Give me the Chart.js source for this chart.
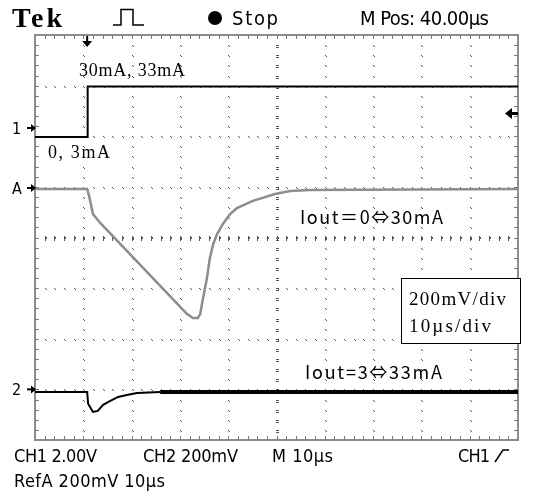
<!DOCTYPE html>
<html>
<head>
<meta charset="utf-8">
<script src="https://cdn.jsdelivr.net/npm/chart.js@4.4.1/dist/chart.umd.min.js"></script>
<style>
  html, body { margin: 0; padding: 0; background: #fff; }
  canvas { display: block; }
</style>
</head>
<body>
<canvas id="scope" width="550" height="495"></canvas>
<script>
// ---- acquisition data ----
// time axis in µs (10 µs/div, 10 divisions)
const ch1Time  = [0, 10.9, 10.9, 100];
const ch1Volts = [0, 0, 2.0, 2.0];                 // load-step drive, 2 V/div

// RefA: output response for Iout 0 <-> 30 mA, mV
const refATime = [0, 10.8, 11.2, 12.0, 13.5, 31.5, 32.7, 33.7, 34.2, 34.8, 35.6, 36.2,
                  36.9, 37.7, 38.9, 40.4, 41.8, 45.1, 49.7, 52.8, 56.9, 100];
const refAmV   = [0, 0, -28, -99, -134, -494, -510, -510, -494, -431, -352, -273,
                  -217, -178, -138, -99, -75, -47, -20, -8, -4, 0];

// straight slope drawn over the falling part of RefA
const slopeTime = [13.5, 31.5];
const slopemV   = [-134, -494];

// CH2: output response for Iout 3 <-> 33 mA, mV
const ch2Time = [0, 10.8, 11.0, 12.0, 13.0, 14.1, 15.5, 17.2, 19.0, 21.1, 25.9, 100];
const ch2mV   = [0, 0, -47, -79, -75, -51, -36, -20, -12, -4, 0, 0];

// ---- vertical settings (per division and screen position in divisions) ----
const CH1_V_PER_DIV = 2.0,  CH1_POS = 1.985;
const REFA_MV_PER_DIV = 200, REFA_POS = 0.958;
const CH2_MV_PER_DIV = 200,  CH2_POS = -3.05;
const TRIG_TIME = 10.8;

const toDiv = (t, v, perDiv, pos) => t.map((x, i) => ({ x, y: v[i] / perDiv + pos }));

const ch2Pts = toDiv(ch2Time, ch2mV, CH2_MV_PER_DIV, CH2_POS);
const splitAt = ch2Time.indexOf(25.9);

// ---- graticule ----
const graticule = {
  id: 'graticule',
  beforeDatasetsDraw(chart) {
    const { ctx, chartArea: a, scales: { x, y } } = chart;
    ctx.save();
    ctx.fillStyle = '#555';
    // vertical grid lines, dotted every 1/5 division
    for (let i = 1; i < 10; i++) {
      const px = Math.round(x.getPixelForValue(i * 10));
      for (let j = 1; j < 40; j++) {
        const py = Math.round(y.getPixelForValue(-4 + j * 0.2));
        if (i === 5) { ctx.fillRect(px - 1, py, 3, 1); ctx.fillRect(px - 1, py + 2, 3, 1); }
        else { ctx.fillRect(px, py, 1, 1); ctx.fillRect(px + 1, py + 1, 1, 1); }
      }
    }
    // horizontal grid lines
    for (let j = 1; j < 8; j++) {
      const py = Math.round(y.getPixelForValue(-4 + j));
      for (let i = 1; i < 50; i++) {
        const px = Math.round(x.getPixelForValue(i * 2));
        if (j === 4) { ctx.fillRect(px, py - 2, 1, 5); ctx.fillRect(px + 1, py - 1, 1, 2); }
        else { ctx.fillRect(px, py, 1, 1); ctx.fillRect(px + 1, py + 1, 1, 1); }
      }
    }
    // frame with inward ticks
    ctx.strokeStyle = '#8c8c8c';
    ctx.lineWidth = 2;
    ctx.strokeRect(a.left, a.top, a.width, a.height);
    ctx.fillStyle = '#777';
    for (let i = 1; i < 50; i++) {
      const px = Math.round(x.getPixelForValue(i * 2));
      ctx.fillRect(px, a.top, 1, 4);
      ctx.fillRect(px, a.bottom - 4, 1, 4);
    }
    for (let j = 1; j < 40; j++) {
      const py = Math.round(y.getPixelForValue(-4 + j * 0.2));
      ctx.fillRect(a.left, py, 4, 1);
      ctx.fillRect(a.right - 4, py, 4, 1);
    }
    ctx.restore();
  }
};

// draws a string stretched (or squeezed) to a given width
function fitText(ctx, str, left, baseline, width, font) {
  ctx.font = font;
  ctx.letterSpacing = '0px';
  const w = ctx.measureText(str).width;
  const n = [...str].length;
  const sp = n > 1 ? (width - w) / (n - 1) : 0;
  ctx.letterSpacing = sp.toFixed(2) + 'px';
  ctx.fillText(str, left, baseline);
  ctx.letterSpacing = '0px';
}

function rightArrow(ctx, x, y) {
  ctx.fillRect(x - 7, y - 1, 7, 2);
  ctx.beginPath();
  ctx.moveTo(x + 2, y); ctx.lineTo(x - 3, y - 4); ctx.lineTo(x - 3, y + 4); ctx.closePath();
  ctx.fill();
}

// ---- screen readouts and annotations ----
const screenText = {
  id: 'screenText',
  afterDraw(chart) {
    const { ctx, chartArea: a, scales: { x, y } } = chart;
    ctx.save();
    ctx.fillStyle = '#000';
    ctx.strokeStyle = '#000';
    ctx.textBaseline = 'alphabetic';
    const scopeFont = '18px "DejaVu Sans Condensed"';
    const headFont = '20px "DejaVu Sans Condensed"';

    // header
    fitText(ctx, 'Tek', 12, 27, 50, 'bold 28px "Liberation Serif"');
    ctx.lineWidth = 1.5;
    ctx.beginPath();
    ctx.moveTo(113, 25); ctx.lineTo(121, 25); ctx.lineTo(121, 9.5);
    ctx.lineTo(133, 9.5); ctx.lineTo(133, 25); ctx.lineTo(144, 25);
    ctx.stroke();
    ctx.beginPath(); ctx.arc(215, 18, 7, 0, Math.PI * 2); ctx.fill();
    fitText(ctx, 'Stop', 232, 25, 46, headFont);
    fitText(ctx, 'M Pos: 40.00µs', 360, 25, 129, headFont);

    // footer readouts
    fitText(ctx, 'CH1 2.00V', 14, 462, 83, scopeFont);
    fitText(ctx, 'CH2 200mV', 143, 462, 95, scopeFont);
    fitText(ctx, 'M 10µs', 272, 462, 61, scopeFont);
    fitText(ctx, 'CH1', 458, 462, 32, scopeFont);
    ctx.lineWidth = 1.5;
    ctx.beginPath();
    ctx.moveTo(495, 462); ctx.lineTo(503, 450); ctx.lineTo(509, 450);
    ctx.stroke();
    fitText(ctx, 'RefA 200mV 10µs', 14, 487, 151, scopeFont);

    // channel ground markers
    ctx.font = '16px "DejaVu Sans Condensed"';
    const marks = [['1', 2.163], ['A', REFA_POS + 0.02], ['2', CH2_POS + 0.05]];
    for (const [lbl, pos] of marks) {
      const py = y.getPixelForValue(pos);
      ctx.fillText(lbl, 12, py + 6);
      rightArrow(ctx, a.left - 1, py);
    }

    // trigger position (top) and trigger level (right)
    const tx = x.getPixelForValue(TRIG_TIME);
    ctx.fillRect(tx - 1, a.top + 1, 2, 7);
    ctx.beginPath();
    ctx.moveTo(tx - 5, a.top + 6); ctx.lineTo(tx + 5, a.top + 6); ctx.lineTo(tx, a.top + 12);
    ctx.closePath(); ctx.fill();
    const ty = 113;
    ctx.fillRect(a.right - 8, ty - 1, 8, 3);
    ctx.beginPath();
    ctx.moveTo(a.right - 13, ty + 0.5); ctx.lineTo(a.right - 6, ty - 5); ctx.lineTo(a.right - 6, ty + 6);
    ctx.closePath(); ctx.fill();

    // annotations
    const serif = '18px "Liberation Serif"';
    fitText(ctx, '30mA, 33mA', 79, 76, 106, serif);
    fitText(ctx, '0, 3mA', 48, 158, 62, serif);
    const jp = '18px "Noto Sans CJK JP"';
    fitText(ctx, 'Iout＝0⇔30mA', 300, 224, 143, jp);
    fitText(ctx, 'Iout=3⇔33mA', 305, 379, 137, jp);

    // scale box
    ctx.fillStyle = '#fff';
    ctx.fillRect(401, 278, 120, 66);
    ctx.lineWidth = 1;
    ctx.strokeRect(401.5, 278.5, 119, 65);
    ctx.fillStyle = '#000';
    fitText(ctx, '200mV/div', 409, 305, 97, '19px "Liberation Serif"');
    fitText(ctx, '10µs/div', 409, 332, 82, '19px "Liberation Serif"');
    ctx.restore();
  }
};

new Chart(document.getElementById('scope'), {
  type: 'line',
  data: {
    datasets: [
      { label: 'RefA', data: toDiv(refATime, refAmV, REFA_MV_PER_DIV, REFA_POS),
        borderColor: '#8d8d8d', borderWidth: 2.5 },
      { label: 'RefA slope', data: toDiv(slopeTime, slopemV, REFA_MV_PER_DIV, REFA_POS),
        borderColor: '#000', borderWidth: 1 },
      { label: 'CH1', data: toDiv(ch1Time, ch1Volts, CH1_V_PER_DIV, CH1_POS),
        borderColor: '#000', borderWidth: 2 },
      { label: 'CH2', data: ch2Pts.slice(0, splitAt + 1),
        borderColor: '#000', borderWidth: 2 },
      { label: 'CH2 settled', data: ch2Pts.slice(splitAt),
        borderColor: '#000', borderWidth: 4 }
    ]
  },
  options: {
    responsive: false,
    animation: false,
    events: [],
    layout: { padding: { left: 35, top: 35, right: 32, bottom: 55 } },
    scales: {
      x: { type: 'linear', min: 0, max: 100, display: false },
      y: { type: 'linear', min: -4, max: 4, display: false }
    },
    elements: { point: { radius: 0 }, line: { tension: 0, borderJoinStyle: 'miter' } },
    plugins: { legend: { display: false }, tooltip: { enabled: false } }
  },
  plugins: [graticule, screenText]
});
</script>
</body>
</html>
